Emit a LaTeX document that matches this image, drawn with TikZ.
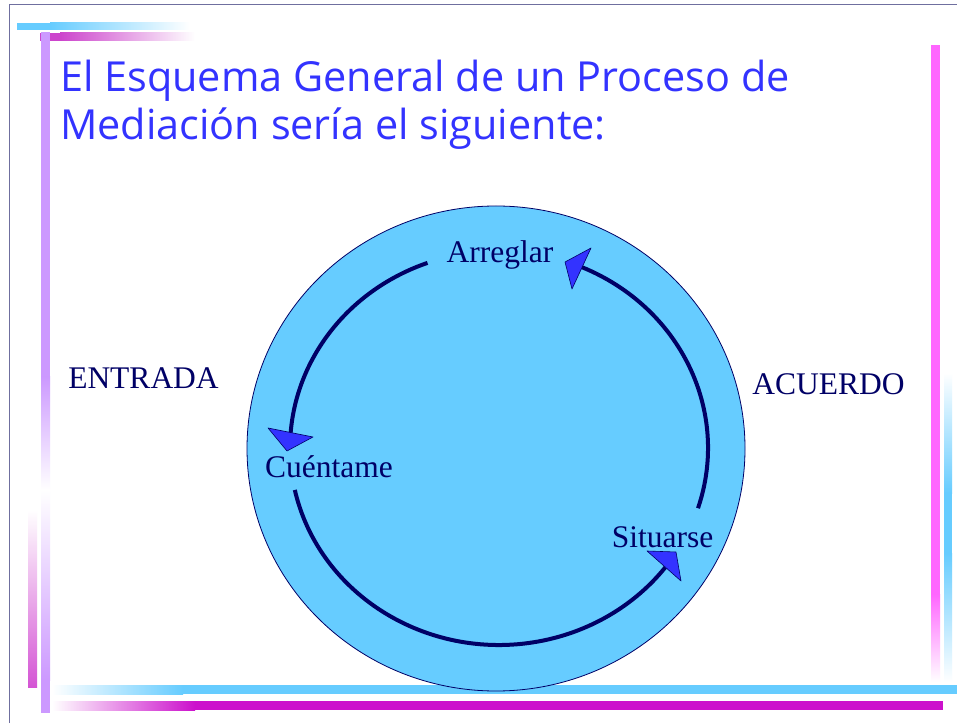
\documentclass[tikz,border=0pt]{standalone}
\usepackage{fontspec}
\setmainfont{Liberation Serif}
\newfontfamily\titlefont{Open Sans}
\usepackage{xcolor}
\definecolor{celeste}{HTML}{66CCFF}
\definecolor{marino}{HTML}{000066}
\definecolor{azul}{HTML}{3333FF}
\definecolor{lila}{HTML}{CC99FF}
\definecolor{rosa}{HTML}{FF66FF}
\definecolor{fucsia}{HTML}{CC11CC}
\definecolor{fucsiaclaro}{HTML}{CC44CC}
\definecolor{orquidea}{HTML}{D455D4}
\definecolor{borde}{HTML}{6F6F9F}
\tikzset{
    label-text/.style = {text=marino, font=\fontsize{31.5}{36}\selectfont, inner sep=0pt, anchor=base},
    title-text/.style = {text=azul, font=\titlefont\fontsize{41.4}{48}\selectfont, inner sep=0pt, anchor=base west},
    cycle-arc/.style = {draw=marino, line width=4pt},
    arc-tip/.style = {fill=azul, draw=marino, line width=0.6pt, line join=round},
}

\begin{document}
\begin{tikzpicture}[x=1pt, y=1pt]
\useasboundingbox[fill=white] (0,0) rectangle (957,723);
% slide frame and bars
\draw[borde, line width=1.2pt] (9.5,0) -- (9.5,718.3) -- (957,718.3);
\fill[celeste] (17,693) rectangle (50,700);
\shade[left color=celeste, right color=white] (50,693) rectangle (190,700);
\fill[fucsiaclaro] (40,682) rectangle (60,690);
\shade[left color=fucsiaclaro, right color=white] (60,682) rectangle (195,690);
\fill[lila] (41,346) rectangle (50,691);
\shade[top color=lila, bottom color=white] (41,233) rectangle (50,346);
\shade[top color=white, bottom color=lila] (41,43) rectangle (50,233);
\fill[lila] (41,10) rectangle (50,43);
\shade[top color=white, bottom color=orquidea] (28,36) rectangle (37,213);
\shade[left color=white, right color=celeste] (52,29) rectangle (183,38);
\fill[celeste] (183,29) rectangle (957,38);
\shade[left color=white, right color=fucsia] (52,13) rectangle (195,22);
\fill[fucsia] (195,13) rectangle (943,22);
\fill[rosa] (931,129) rectangle (940,678);
\shade[top color=rosa, bottom color=white] (931,41) rectangle (940,129);
\shade[top color=white, bottom color=celeste] (944,230) rectangle (952,350);
\fill[celeste] (944,170) rectangle (952,230);
\shade[top color=celeste, bottom color=white] (944,41) rectangle (952,170);

% title
\node[title-text] (titulo-1) at (60,631) {El Esquema General de un Proceso de};
\node[title-text] (titulo-2) at (60,583) {Mediación sería el siguiente:};

% cycle
\coordinate (disco) at (496,274.5);
\coordinate (centro) at (499,275);
\draw[fill=celeste, draw=marino, line width=0.8pt] (disco) ellipse [x radius=249, y radius=242.5];
\draw[cycle-arc] (centro) ++(110:209 and 197) arc[start angle=110, end angle=175.6, x radius=209, y radius=197];
\draw[cycle-arc] (centro) ++(192.3:209 and 197) arc[start angle=192.3, end angle=322.7, x radius=209, y radius=197];
\draw[cycle-arc] (centro) ++(-17.8:209 and 197) arc[start angle=-17.8, end angle=66.6, x radius=209, y radius=197];
\filldraw[arc-tip] (268,295) -- (313,286) -- (287,272) -- cycle;
\filldraw[arc-tip] (647,172) -- (676,171) -- (681,142) -- cycle;
\filldraw[arc-tip] (565,461) -- (591,475) -- (572,434) -- cycle;

\node[label-text] (arreglar) at (500,460) {Arreglar};
\node[label-text] (cuentame) at (329,246) {Cuéntame};
\node[label-text] (situarse) at (662.5,176) {Situarse};
\node[label-text] (entrada) at (143.5,334) {ENTRADA};
\node[label-text] (acuerdo) at (828.5,328) {ACUERDO};
\end{tikzpicture}
\end{document}
